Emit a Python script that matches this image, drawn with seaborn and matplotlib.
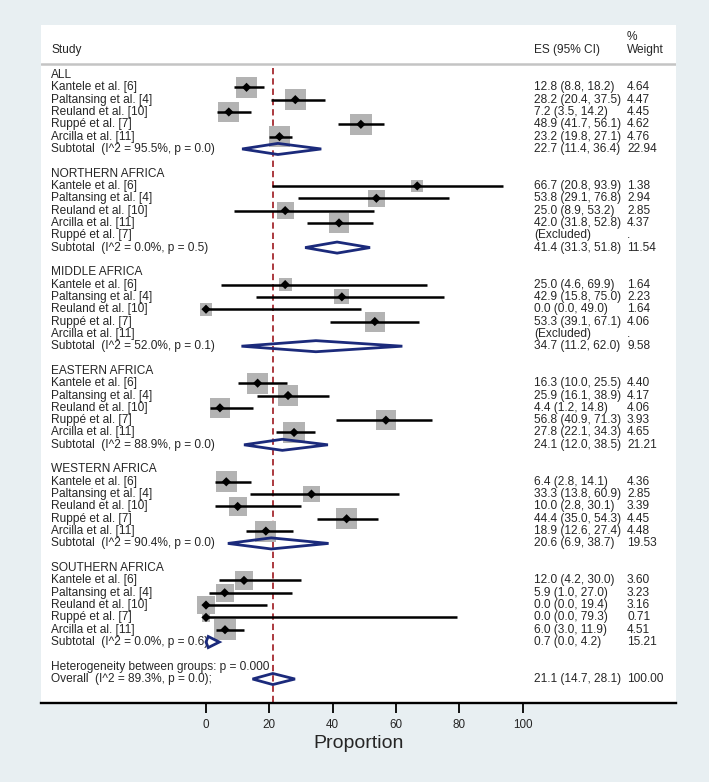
import numpy as np
import pandas as pd
import matplotlib
matplotlib.use("Agg")
import matplotlib.pyplot as plt
from matplotlib.patches import Polygon
import seaborn as sns

# ---------------- data ----------------
groups = ["ALL", "NORTHERN AFRICA", "MIDDLE AFRICA", "EASTERN AFRICA",
          "WESTERN AFRICA", "SOUTHERN AFRICA"]

studies_std = ["Kantele et al. [6]", "Paltansing et al. [4]", "Reuland et al. [10]",
               "Ruppé et al. [7]", "Arcilla et al. [11]"]
studies_north = ["Kantele et al. [6]", "Paltansing et al. [4]", "Reuland et al. [10]",
                 "Arcilla et al. [11]", "Ruppé et al. [7]"]
group_studies = [studies_std, studies_north, studies_std, studies_std, studies_std, studies_std]

# None = excluded
es_all = [12.8, 28.2, 7.2, 48.9, 23.2]
lo_all = [8.8, 20.4, 3.5, 41.7, 19.8]
hi_all = [18.2, 37.5, 14.2, 56.1, 27.1]
wt_all = [4.64, 4.47, 4.45, 4.62, 4.76]

es_north = [66.7, 53.8, 25.0, 42.0, None]
lo_north = [20.8, 29.1, 8.9, 31.8, None]
hi_north = [93.9, 76.8, 53.2, 52.8, None]
wt_north = [1.38, 2.94, 2.85, 4.37, None]

es_mid = [25.0, 42.9, 0.0, 53.3, None]
lo_mid = [4.6, 15.8, 0.0, 39.1, None]
hi_mid = [69.9, 75.0, 49.0, 67.1, None]
wt_mid = [1.64, 2.23, 1.64, 4.06, None]

es_east = [16.3, 25.9, 4.4, 56.8, 27.8]
lo_east = [10.0, 16.1, 1.2, 40.9, 22.1]
hi_east = [25.5, 38.9, 14.8, 71.3, 34.3]
wt_east = [4.40, 4.17, 4.06, 3.93, 4.65]

es_west = [6.4, 33.3, 10.0, 44.4, 18.9]
lo_west = [2.8, 13.8, 2.8, 35.0, 12.6]
hi_west = [14.1, 60.9, 30.1, 54.3, 27.4]
wt_west = [4.36, 2.85, 3.39, 4.45, 4.48]

es_south = [12.0, 5.9, 0.0, 0.0, 6.0]
lo_south = [4.2, 1.0, 0.0, 0.0, 3.0]
hi_south = [30.0, 27.0, 19.4, 79.3, 11.9]
wt_south = [3.60, 3.23, 3.16, 0.71, 4.51]

group_es = [es_all, es_north, es_mid, es_east, es_west, es_south]
group_lo = [lo_all, lo_north, lo_mid, lo_east, lo_west, lo_south]
group_hi = [hi_all, hi_north, hi_mid, hi_east, hi_west, hi_south]
group_wt = [wt_all, wt_north, wt_mid, wt_east, wt_west, wt_south]

sub_es = [22.7, 41.4, 34.7, 24.1, 20.6, 0.7]
sub_lo = [11.4, 31.3, 11.2, 12.0, 6.9, 0.0]
sub_hi = [36.4, 51.8, 62.0, 38.5, 38.7, 4.2]
sub_wt = [22.94, 11.54, 9.58, 21.21, 19.53, 15.21]
sub_i2 = [95.5, 0.0, 52.0, 88.9, 90.4, 0.0]
sub_p = [0.0, 0.5, 0.1, 0.0, 0.0, 0.6]

overall_es, overall_lo, overall_hi, overall_wt = 21.1, 14.7, 28.1, 100.00
overall_i2, overall_p = 89.3, 0.0
het_between_p = "0.000"

x_ticks = [0, 20, 40, 60, 80, 100]

# ---------------- layout ----------------
W, H, DPI = 709, 782, 100
BG = "#e8eff2"
NAVY = "#1b2a7b"
BOXGRAY = "#b3b3b3"
RED = "#a52a30"

PX0, PXU = 206.0, 3.167          # pixel of value 0, pixels per unit
PANEL_L, PANEL_R, PANEL_T, PANEL_B = 41, 676, 25, 703
ROW0_PX, ROW_PX = 75.0, 12.327


def px2x(px):
    return (px - PX0) / PXU


def py2row(py):
    return (py - ROW0_PX) / ROW_PX


sns.set_theme(style="white")
plt.rcParams['font.family'] = ['Liberation Sans', 'DejaVu Sans']
FS = 8.6

fig = plt.figure(figsize=(W / DPI, H / DPI), dpi=DPI, facecolor=BG)
ax = fig.add_axes([PANEL_L / W, (H - PANEL_B) / H,
                   (PANEL_R - PANEL_L) / W, (PANEL_B - PANEL_T) / H])
ax.set_facecolor("white")
ax.set_xlim(px2x(PANEL_L), px2x(PANEL_R))
ax.set_ylim(py2row(PANEL_B), py2row(PANEL_T))

HALF = 0.45


def diamond(lo, est, hi, rr):
    ax.add_patch(Polygon([[lo, rr], [est, rr - HALF], [hi, rr], [est, rr + HALF]],
                         closed=True, facecolor="none", edgecolor=NAVY, lw=2.0,
                         joinstyle="miter", zorder=6))


rows = []
texts = []   # (row, label, es_text, wt_text)
r = 0
for gi, g in enumerate(groups):
    texts.append((r, g, "", ""))
    r += 1
    for si, name in enumerate(group_studies[gi]):
        e = group_es[gi][si]
        if e is None:
            texts.append((r, name, "(Excluded)", "."))
        else:
            lo, hi, w = group_lo[gi][si], group_hi[gi][si], group_wt[gi][si]
            rows.append(dict(row=r, es=e, lo=lo, hi=hi, wt=w))
            texts.append((r, name, f"{e:.1f} ({lo:.1f}, {hi:.1f})", f"{w:.2f}"))
        r += 1
    texts.append((r, f"Subtotal  (I^2 = {sub_i2[gi]:.1f}%, p = {sub_p[gi]:.1f})",
                  f"{sub_es[gi]:.1f} ({sub_lo[gi]:.1f}, {sub_hi[gi]:.1f})", f"{sub_wt[gi]:.2f}"))
    diamond(sub_lo[gi], sub_es[gi], sub_hi[gi], r)
    r += 2

texts.append((r, f"Heterogeneity between groups: p = {het_between_p}", "", ""))
r += 1
texts.append((r, f"Overall  (I^2 = {overall_i2:.1f}%, p = {overall_p:.1f});",
              f"{overall_es:.1f} ({overall_lo:.1f}, {overall_hi:.1f})", f"{overall_wt:.2f}"))
diamond(overall_lo, overall_es, overall_hi, r)

df = pd.DataFrame(rows)

# weight boxes (area proportional to weight)
box_s = (9.9 * 0.72) ** 2 * df["wt"].to_numpy()
sns.scatterplot(data=df, x="es", y="row", marker="s", s=box_s, color=BOXGRAY,
                edgecolor="none", linewidth=0, ax=ax, zorder=2, legend=False)
# CI lines
ax.hlines(df["row"], df["lo"], df["hi"], color="black", lw=1.8, zorder=3)
# point estimates
sns.scatterplot(data=df, x="es", y="row", marker="D", s=22, color="black",
                edgecolor="none", linewidth=0, ax=ax, zorder=4, legend=False)

# overall reference line
ax.vlines(overall_es, py2row(68), py2row(PANEL_B), color=RED, lw=1.3,
          linestyles=(0, (3.5, 2.2)), zorder=1)

# header
ax.axhline(py2row(64), color="#c4c4c4", lw=1.8, zorder=1)
ax.text(px2x(51), py2row(50), "Study", fontsize=FS, va="center", ha="left")
ax.text(px2x(534), py2row(50), "ES (95% CI)", fontsize=FS, va="center", ha="left")
ax.text(px2x(627), py2row(37), "%", fontsize=FS, va="center", ha="left")
ax.text(px2x(627), py2row(50), "Weight", fontsize=FS, va="center", ha="left")

for (rr, lab, est, wtxt) in texts:
    ax.text(px2x(51), rr, lab, fontsize=FS, va="center", ha="left", zorder=5)
    if est:
        ax.text(px2x(534), rr, est, fontsize=FS, va="center", ha="left")
    if wtxt:
        ax.text(px2x(627), rr, wtxt, fontsize=FS, va="center", ha="left")

# axes styling
for s in ["top", "left", "right"]:
    ax.spines[s].set_visible(False)
ax.spines["bottom"].set_color("black")
ax.spines["bottom"].set_linewidth(1.7)
ax.set_yticks([])
ax.set_xticks(x_ticks)
ax.set_xticklabels([str(t) for t in x_ticks])
ax.tick_params(axis="x", bottom=True, direction="out", length=7, width=1.3,
               color="black", pad=4.5, labelsize=8.4)
ax.set_xlabel("Proportion", fontsize=14, labelpad=3)
ax.set_ylabel("")

fig.savefig("out.png", dpi=DPI, facecolor=BG)
